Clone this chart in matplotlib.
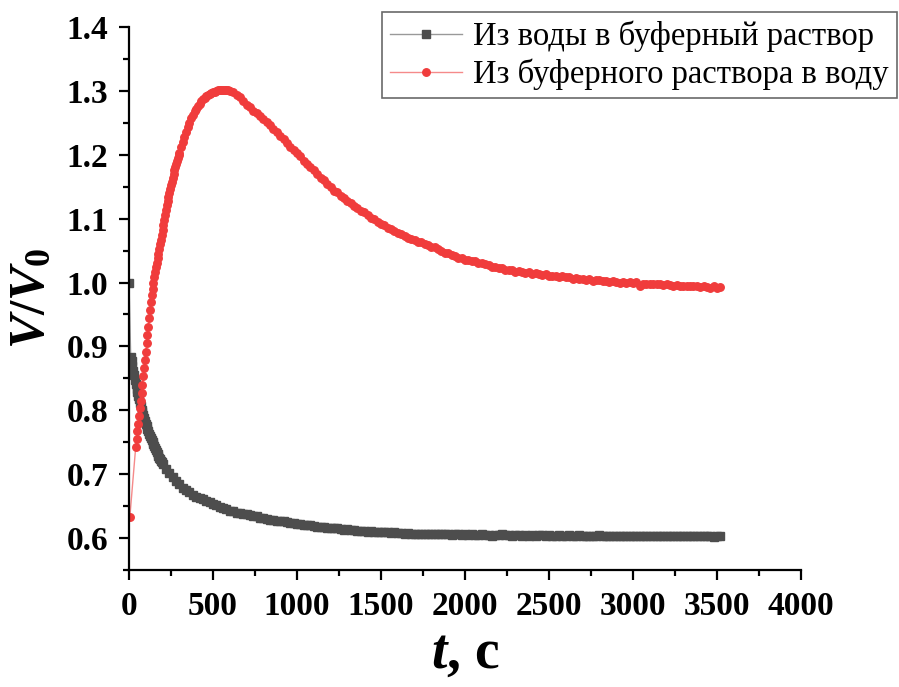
import numpy as np
import matplotlib; matplotlib.use('Agg')  # noqa
import matplotlib.pyplot as plt
from matplotlib.ticker import MultipleLocator

plt.rcParams['font.family'] = ['Liberation Serif', 'DejaVu Serif']
plt.rcParams['font.weight'] = 'bold'
plt.rcParams['mathtext.fontset'] = 'custom'
plt.rcParams['mathtext.rm'] = 'Liberation Serif:bold'
plt.rcParams['mathtext.it'] = 'Liberation Serif:italic:bold'
plt.rcParams['mathtext.bf'] = 'Liberation Serif:bold'

labels = ['Из воды в буферный раствор', 'Из буферного раствора в воду']

# water -> buffer: t = 0, then 10..200 every 5 s, then 220..3520 every 20 s
t_water = np.concatenate([[0], np.arange(10, 201, 5), np.arange(220, 3521, 20)])
v_water = [
    1.000,
    0.884, 0.877, 0.870, 0.862, 0.855, 0.848, 0.841, 0.834, 0.828, 0.822,
    0.817, 0.811, 0.806, 0.801, 0.797, 0.792, 0.788, 0.784, 0.779, 0.775,
    0.771, 0.767, 0.763, 0.760, 0.757, 0.754, 0.750, 0.747, 0.744, 0.741,
    0.738, 0.735, 0.732, 0.729, 0.726, 0.724, 0.721, 0.719, 0.716,
    # 220..400
    0.708, 0.702, 0.695, 0.689, 0.684, 0.679, 0.675, 0.672, 0.668, 0.665,
    0.662, 0.661, 0.658, 0.656, 0.653, 0.651, 0.649, 0.647, 0.645, 0.643,
    0.642, 0.640, 0.639, 0.638, 0.637, 0.636, 0.634, 0.634, 0.632, 0.631,
    0.630, 0.629, 0.628, 0.627, 0.626, 0.626, 0.625, 0.624, 0.623, 0.622,
    0.622, 0.621, 0.620, 0.620, 0.619, 0.618, 0.618, 0.617, 0.616, 0.616,
    0.615, 0.615, 0.614, 0.613, 0.614, 0.612, 0.612, 0.611, 0.611, 0.611,
    0.610, 0.611, 0.610, 0.609, 0.610, 0.609, 0.609, 0.608, 0.609, 0.608,
    0.608, 0.607, 0.608, 0.607, 0.607, 0.607, 0.606, 0.607, 0.607, 0.606,
    0.607, 0.606, 0.606, 0.607, 0.606, 0.605, 0.606, 0.606, 0.605, 0.606,
    0.605, 0.606, 0.605, 0.605, 0.606, 0.605, 0.605, 0.604, 0.605, 0.605,
    0.606, 0.605, 0.605, 0.604, 0.605, 0.605, 0.604, 0.605, 0.604, 0.605,
    0.604, 0.605, 0.605, 0.604, 0.605, 0.604, 0.604, 0.605, 0.604, 0.604,
    0.605, 0.604, 0.604, 0.605, 0.604, 0.604, 0.603, 0.604, 0.604, 0.605,
    0.604, 0.604, 0.603, 0.604, 0.604, 0.603, 0.604, 0.604, 0.603, 0.604,
    0.604, 0.603, 0.604, 0.603, 0.604, 0.604, 0.603, 0.604, 0.603, 0.603,
    0.604, 0.603, 0.603, 0.604, 0.603, 0.603, 0.604, 0.603, 0.603, 0.603,
    0.604, 0.603, 0.603, 0.602, 0.603, 0.603,
]

# buffer -> water: t = 5, 40..300 every 5 s, 310..600 every 10 s, 620..3520 every 20 s
t_buffer = np.concatenate([[5], np.arange(40, 301, 5), np.arange(310, 601, 10),
                           np.arange(620, 3521, 20)])
v_buffer = [
    0.633,
    0.743, 0.755, 0.767, 0.779, 0.791, 0.803, 0.815, 0.827, 0.840, 0.853,
    0.866, 0.879, 0.892, 0.905, 0.918, 0.931, 0.944, 0.957, 0.969, 0.980,
    0.990, 0.999, 1.008, 1.016, 1.024, 1.031, 1.038, 1.045, 1.052, 1.060,
    1.067, 1.075, 1.082, 1.090, 1.098, 1.106, 1.114, 1.121, 1.128, 1.134,
    1.140, 1.146, 1.152, 1.158, 1.164, 1.170, 1.176, 1.181, 1.186, 1.190,
    1.195, 1.199, 1.203,
    # 310..600
    1.212, 1.220, 1.228, 1.236, 1.243, 1.250, 1.257, 1.263, 1.268, 1.272,
    1.276, 1.280, 1.284, 1.287, 1.289, 1.292, 1.294, 1.295, 1.297, 1.298,
    1.299, 1.300, 1.301, 1.302, 1.301, 1.302, 1.302, 1.301, 1.301, 1.300,
    # 620..3520
    1.298,
    1.294, 1.290, 1.284, 1.278, 1.274, 1.269, 1.265, 1.260, 1.256, 1.252,
    1.246, 1.241, 1.236, 1.230, 1.224, 1.219, 1.212, 1.208, 1.203, 1.198,
    1.191, 1.186, 1.181, 1.176, 1.170, 1.164, 1.160, 1.154, 1.150, 1.144,
    1.141, 1.136, 1.132, 1.127, 1.124, 1.120, 1.117, 1.112, 1.110, 1.106,
    1.101, 1.099, 1.095, 1.092, 1.090, 1.086, 1.084, 1.081, 1.078, 1.076,
    1.073, 1.070, 1.068, 1.067, 1.064, 1.063, 1.061, 1.058, 1.056, 1.055,
    1.052, 1.050, 1.047, 1.046, 1.043, 1.042, 1.039, 1.038, 1.036, 1.036,
    1.033, 1.033, 1.031, 1.030, 1.029, 1.028, 1.025, 1.024, 1.022, 1.023,
    1.020, 1.019, 1.019, 1.017, 1.018, 1.016, 1.015, 1.016, 1.014, 1.015,
    1.013, 1.012, 1.013, 1.011, 1.010, 1.011, 1.009, 1.010, 1.008, 1.008,
    1.006, 1.007, 1.005, 1.006, 1.004, 1.005, 1.003, 1.004, 1.004, 1.002,
    1.003, 1.001, 1.002, 1.001, 1.000, 1.001, 1.000, 1.001, 1.000, 1.001,
    0.995, 0.997, 0.998, 0.997, 0.998, 0.997, 0.997, 0.996, 0.997, 0.996,
    0.995, 0.996, 0.995, 0.994, 0.995, 0.994, 0.995, 0.994, 0.993, 0.994,
    0.993, 0.992, 0.994, 0.991, 0.993,
]

fig = plt.figure(figsize=(8.99, 6.87), dpi=100)
ax = fig.add_axes([0.1435, 0.1703, 0.7475, 0.7904])

ax.plot(t_water, v_water, color='#999999', lw=1.0, marker='s', ms=5.2,
        mfc='#4d4d4d', mec='#4d4d4d', label=labels[0])
ax.plot(t_buffer, v_buffer, color='#f58a8a', lw=1.0, marker='o', ms=5.4,
        mfc='#f03c3c', mec='#f03c3c', label=labels[1])

ax.set_xlim(0, 4000)
ax.set_ylim(0.55, 1.4)
ax.xaxis.set_major_locator(MultipleLocator(500))
ax.xaxis.set_minor_locator(MultipleLocator(250))
ax.yaxis.set_minor_locator(MultipleLocator(0.05))
ax.set_yticks(np.arange(0.6, 1.41, 0.1))
ax.set_yticklabels(['%.1f' % v for v in np.arange(0.6, 1.41, 0.1)])

for side in ['top', 'right']:
    ax.spines[side].set_visible(False)
for side in ['left', 'bottom']:
    ax.spines[side].set_linewidth(1.6)
ax.tick_params(which='major', direction='out', length=7, width=1.6,
               labelsize=24, pad=8)
ax.tick_params(which='minor', direction='out', length=4, width=1.6)

ax.set_xlabel(r'$t$, c', fontsize=40, fontweight='bold', labelpad=4)
ax.set_ylabel(r'$V/V_0$', fontsize=37, labelpad=8)

leg = fig.legend(loc='upper right', bbox_to_anchor=(0.998, 0.982), fontsize=23.5,
                 frameon=True, fancybox=False, edgecolor='#444444',
                 handlelength=2.2, borderpad=0.25, labelspacing=0.2,
                 handletextpad=0.35, borderaxespad=0)
leg.get_frame().set_linewidth(1.2)
for txt in leg.get_texts():
    txt.set_fontweight('normal')

fig.savefig('out.png', dpi=100)
